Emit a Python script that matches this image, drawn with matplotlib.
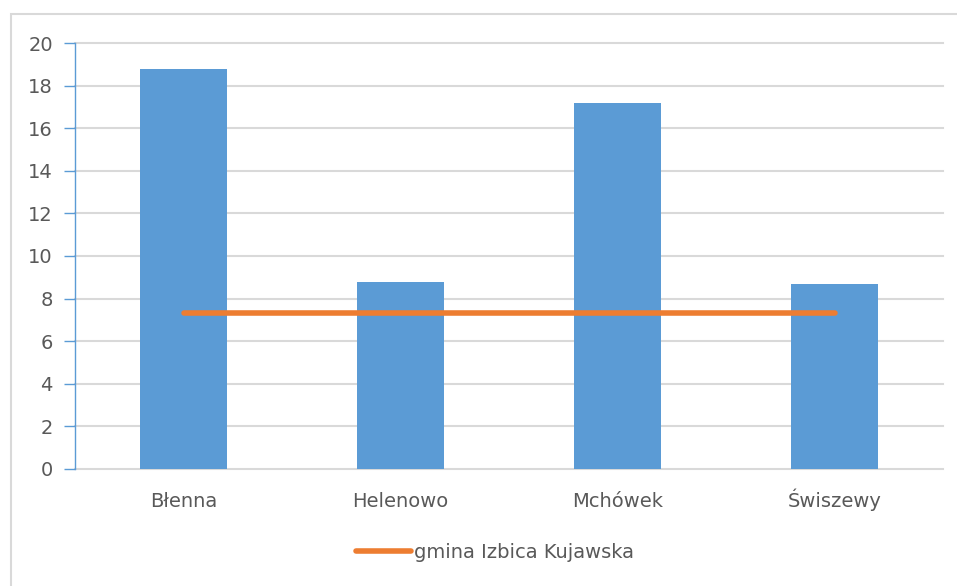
import numpy as np
import matplotlib.pyplot as plt
from matplotlib.patches import Rectangle

villages = ["Błenna", "Helenowo", "Mchówek", "Świszewy"]
values = [18.8, 8.8, 17.2, 8.7]
gmina_avg = [7.3, 7.3, 7.3, 7.3]
gmina_label = "gmina Izbica Kujawska"
y_ticks = [0, 2, 4, 6, 8, 10, 12, 14, 16, 18, 20]

blue = "#5b9bd5"
orange = "#ed7d31"
grid_c = "#d9d9d9"
text_c = "#595959"

plt.rcParams["font.family"] = ["DejaVu Sans"]

fig = plt.figure(figsize=(9.57, 5.86), dpi=100)
W, H = 957, 586

# chart frame (Excel style, runs off right/bottom edge)
fig.patches.append(Rectangle((11 / W, -0.1), 1.2, (H - 14) / H + 0.1,
                             transform=fig.transFigure, fill=False,
                             edgecolor=grid_c, linewidth=1.5, zorder=0))

ax = fig.add_axes([75 / W, 117.3 / H, 868 / W, 425.4 / H])

x = np.arange(len(villages))
ax.bar(x, values, width=0.4, color=blue, zorder=2)
ax.plot(x, gmina_avg, color=orange, linewidth=4, solid_capstyle="round",
        zorder=3, label=gmina_label)

ax.set_xlim(-0.5, len(villages) - 0.5)
ax.set_ylim(0, 20)
ax.set_yticks(y_ticks)
ax.set_xticks(x)
ax.set_xticklabels(villages, va="baseline")

ax.grid(axis="y", color=grid_c, linewidth=1.5, zorder=0)
for gl in ax.get_ygridlines():
    gl.set_clip_on(False)
ax.set_axisbelow(True)
for s in ["top", "right", "bottom"]:
    ax.spines[s].set_visible(False)
ax.spines["left"].set_color(blue)
ax.spines["left"].set_linewidth(1)

ax.tick_params(axis="y", colors=blue, labelcolor=text_c, labelsize=14,
               length=8, width=1, pad=8)
ax.tick_params(axis="x", length=0, labelcolor=text_c, labelsize=14, pad=27.5)

leg = fig.legend(loc="center", bbox_to_anchor=(495 / W, (H - 552) / H),
                 frameon=False, fontsize=14, handlelength=2.8,
                 handletextpad=0.15, labelcolor=text_c)

fig.savefig("out.png", dpi=100)
